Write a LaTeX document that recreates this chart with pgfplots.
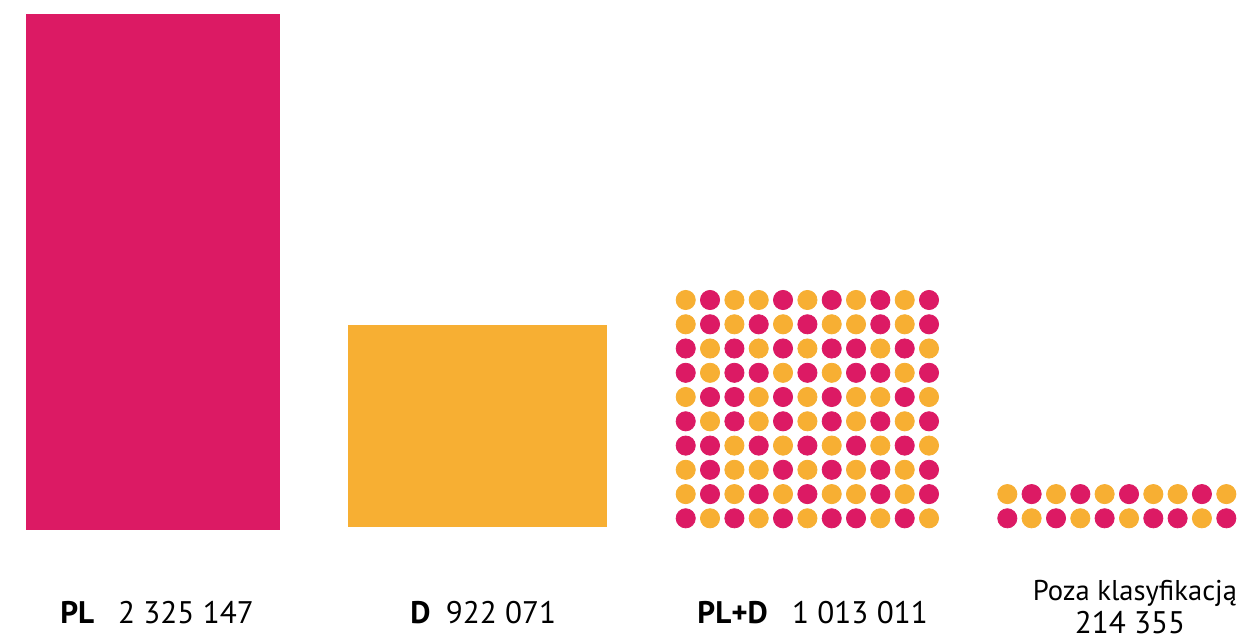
\documentclass[border=0pt]{standalone}
\usepackage{pgfplots}
\pgfplotsset{compat=1.18}
\usepackage{fontspec}
\setmainfont{PT Sans}
\definecolor{pinkc}{HTML}{DC1A64}
\definecolor{orangec}{HTML}{F7AF33}
\tikzset{lbl/.style={font=\fontsize{15.6pt}{19pt}\selectfont, inner sep=0pt},
         lbls/.style={font=\fontsize{14.3pt}{17pt}\selectfont, inner sep=0pt}}
\begin{document}
\begin{tikzpicture}
\begin{axis}[
  scale only axis, width=622pt, height=320pt,
  xmin=0, xmax=1244, ymin=0, ymax=640, y dir=reverse,
  hide axis, clip marker paths=true,
]
% PL bar
\addplot[fill=pinkc, draw=none] coordinates {(25.5,13.7) (279.5,13.7) (279.5,529.5) (25.5,529.5)} -- cycle;
% D bar
\addplot[fill=orangec, draw=none] coordinates {(348,325) (607,325) (607,527) (348,527)} -- cycle;
% PL+D dots (pink)
\addplot[color=pinkc, only marks, mark=*, mark size=4.8pt, mark options={fill=pinkc, draw=pinkc}] coordinates {
(710.0,300.0) (783.0,300.0) (831.7,300.0) (880.3,300.0) (929.0,300.0)
(710.0,324.3) (758.7,324.3) (807.4,324.3) (880.3,324.3) (929.0,324.3)
(685.7,348.5) (734.4,348.5) (783.0,348.5) (831.7,348.5) (856.0,348.5) (904.7,348.5)
(685.7,372.8) (734.4,372.8) (758.7,372.8) (807.4,372.8) (856.0,372.8) (880.3,372.8) (929.0,372.8)
(710.0,397.0) (734.4,397.0) (783.0,397.0) (831.7,397.0) (904.7,397.0)
(685.7,421.3) (734.4,421.3) (783.0,421.3) (831.7,421.3) (880.3,421.3) (929.0,421.3)
(685.7,445.6) (710.0,445.6) (758.7,445.6) (807.4,445.6) (856.0,445.6) (904.7,445.6)
(710.0,469.8) (783.0,469.8) (831.7,469.8) (880.3,469.8) (929.0,469.8)
(710.0,494.1) (758.7,494.1) (807.4,494.1) (880.3,494.1) (929.0,494.1)
(685.7,518.3) (734.4,518.3) (783.0,518.3) (831.7,518.3) (856.0,518.3) (904.7,518.3)
};
% PL+D dots (orange)
\addplot[color=orangec, only marks, mark=*, mark size=4.8pt, mark options={fill=orangec, draw=orangec}] coordinates {
(685.7,300.0) (734.4,300.0) (758.7,300.0) (807.4,300.0) (856.0,300.0) (904.7,300.0)
(685.7,324.3) (734.4,324.3) (783.0,324.3) (831.7,324.3) (856.0,324.3) (904.7,324.3)
(710.0,348.5) (758.7,348.5) (807.4,348.5) (880.3,348.5) (929.0,348.5)
(710.0,372.8) (783.0,372.8) (831.7,372.8) (904.7,372.8)
(685.7,397.0) (758.7,397.0) (807.4,397.0) (856.0,397.0) (880.3,397.0) (929.0,397.0)
(710.0,421.3) (758.7,421.3) (807.4,421.3) (856.0,421.3) (904.7,421.3)
(734.4,445.6) (783.0,445.6) (831.7,445.6) (880.3,445.6) (929.0,445.6)
(685.7,469.8) (734.4,469.8) (758.7,469.8) (807.4,469.8) (856.0,469.8) (904.7,469.8)
(685.7,494.1) (734.4,494.1) (783.0,494.1) (831.7,494.1) (856.0,494.1) (904.7,494.1)
(710.0,518.3) (758.7,518.3) (807.4,518.3) (880.3,518.3) (929.0,518.3)
};
% Poza klasyfikacja dots (pink)
\addplot[color=pinkc, only marks, mark=*, mark size=4.8pt, mark options={fill=pinkc, draw=pinkc}] coordinates {
(1031.6,494.1) (1080.3,494.1) (1129.0,494.1) (1201.9,494.1) (1250.6,494.1)
(1007.3,518.3) (1056.0,518.3) (1104.6,518.3) (1153.3,518.3) (1177.6,518.3) (1226.3,518.3)
};
% Poza klasyfikacja dots (orange)
\addplot[color=orangec, only marks, mark=*, mark size=4.8pt, mark options={fill=orangec, draw=orangec}] coordinates {
(1007.3,494.1) (1056.0,494.1) (1104.6,494.1) (1153.3,494.1) (1177.6,494.1) (1226.3,494.1)
(1031.6,518.3) (1080.3,518.3) (1129.0,518.3) (1201.9,518.3) (1250.6,518.3)
};
% labels
\node[lbl, anchor=base west] at (axis cs:60,623) {\bfseries PL};
\node[lbl, anchor=base] at (axis cs:186,623) {2 325 147};
\node[lbl, anchor=base west] at (axis cs:410,623) {\bfseries D};
\node[lbl, anchor=base] at (axis cs:501,623) {922 071};
\node[lbl, anchor=base west] at (axis cs:697,623) {\bfseries PL+D};
\node[lbl, anchor=base] at (axis cs:860,623) {1 013 011};
\node[lbls, anchor=base] at (axis cs:1135,600) {Poza klasyfikacją};
\node[lbl, anchor=base] at (axis cs:1130,633) {214 355};
\end{axis}
\pgfresetboundingbox
\useasboundingbox (current axis.south west) rectangle (current axis.north east);
\end{tikzpicture}
\end{document}
